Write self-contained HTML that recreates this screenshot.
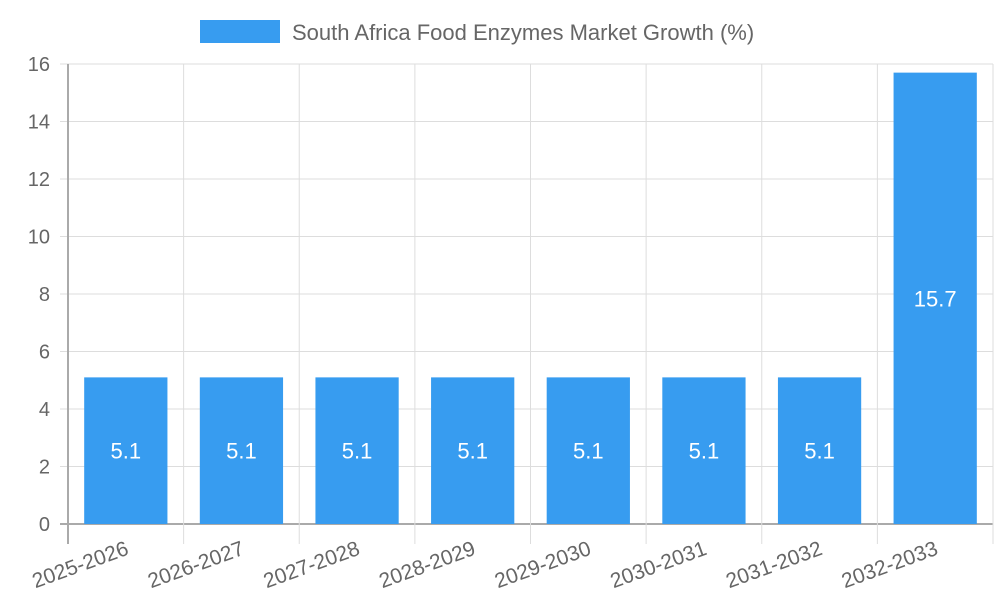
<!DOCTYPE html>
<html><head><meta charset="utf-8"><style>
body{margin:0;background:#fff;font-family:"Liberation Sans",sans-serif;}
svg text{font-family:"Liberation Sans",sans-serif;}
</style></head><body>
<svg id="chart" width="1000" height="600" xmlns="http://www.w3.org/2000/svg">
<rect x="200" y="20" width="80" height="23" fill="#379cf0"/>
<text x="292" y="40" font-size="22" fill="#666">South Africa Food Enzymes Market Growth (%)</text>
<g id="grid"></g><g id="bars"></g><g id="labels"></g>
</svg>
<script>
const categories=["2025-2026","2026-2027","2027-2028","2028-2029","2029-2030","2030-2031","2031-2032","2032-2033"];
const values=[5.1,5.1,5.1,5.1,5.1,5.1,5.1,15.7];
const yTicks=[0,2,4,6,8,10,12,14,16];
const L=68,R=993,T=64,B=524,yMax=16;
const ns="http://www.w3.org/2000/svg";
const cw=(R-L)/categories.length;
const y=v=>B-(v/yMax)*(B-T);
const x=i=>L+i*cw;
function mk(tag,attrs,parent,text){const e=document.createElementNS(ns,tag);for(const k in attrs)e.setAttribute(k,attrs[k]);if(text!==undefined)e.textContent=text;document.getElementById(parent).appendChild(e);return e;}
yTicks.forEach(t=>{
 const g=mk("line",{x1:L-8,x2:R,y1:y(t),y2:y(t),stroke:t===0?"#aaa":"#ddd","stroke-width":t===0?2:1},"grid");
 
 
 const tx=mk("text",{x:L-18,y:y(t)+7,"font-size":20,fill:"#666","text-anchor":"end"},"grid",String(t));
 
 
});
for(let i=0;i<=categories.length;i++){
 const g=mk("line",{x1:x(i),x2:x(i),y1:T,y2:B+20,stroke:i===0?"#aaa":"#ddd","stroke-width":i===0?2:1},"grid");
 
 
}
categories.forEach((c,i)=>{
 const bw=cw*0.72,bx=x(i)+(cw-bw)/2;
 const r=mk("rect",{x:bx,y:y(values[i]),width:bw,height:B-y(values[i]),fill:"#379cf0"},"bars");
 
 
 const v=mk("text",{x:bx+bw/2,y:(y(values[i])+B)/2+8,"font-size":22,fill:"#fff","text-anchor":"middle"},"labels",String(values[i]));
 
 
 const cx=x(i)+cw/2+4,cy=B+30;
 const t=mk("text",{x:cx,y:cy,"font-size":21,fill:"#666","text-anchor":"end",transform:`rotate(-20 ${cx} ${cy})`},"labels",c);
 
 
});
</script>
</body></html>
